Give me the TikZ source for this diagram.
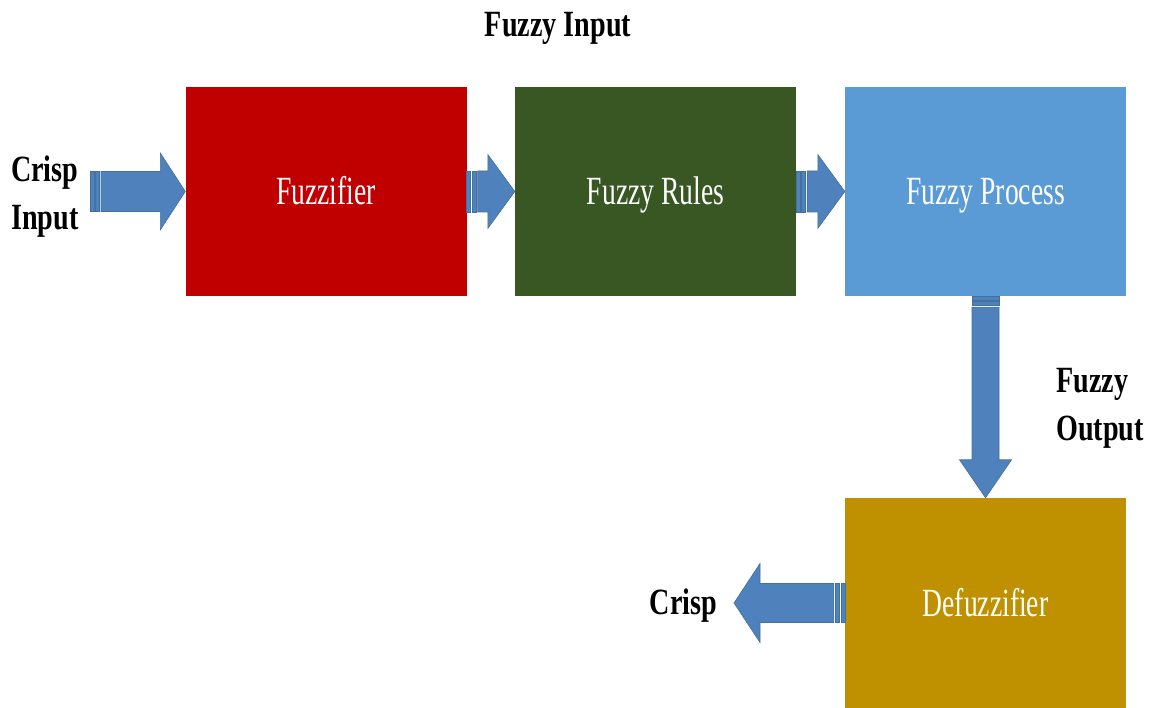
\documentclass[tikz,border=0pt]{standalone}
\usepackage{fontspec}
\setmainfont{Liberation Serif}
\usetikzlibrary{calc}

\definecolor{fzred}{HTML}{C00000}
\definecolor{fzgreen}{HTML}{385723}
\definecolor{fzblue}{HTML}{5B9BD5}
\definecolor{fzgold}{HTML}{BF9000}
\definecolor{arrfill}{HTML}{4F81BD}
\definecolor{arrline}{HTML}{41719C}

% narrow (condensed) text
\newcommand\narrowtext[2]{\scalebox{#1}[1]{#2}}

% striped block arrow: tail, tip, shaft half width, head half width, head length
\newcommand\stripedarrow[5]{%
  \path let \p1=($(#2)-(#1)$), \n1={veclen(\x1,\y1)}, \n2={atan2(\y1,\x1)} in
    \pgfextra{\xdef\arlen{\n1}\xdef\arang{\n2}};
  \begin{scope}[shift={(#1)}, rotate=\arang]
    \filldraw[blockarrow] (0,-#3) rectangle (4,#3);
    \filldraw[blockarrow] (5.5,-#3) rectangle (9.5,#3);
    \filldraw[blockarrow] (11,-#3) -- (\arlen-#5,-#3) -- (\arlen-#5,-#4)
      -- (\arlen,0) -- (\arlen-#5,#4) -- (\arlen-#5,#3) -- (11,#3) -- cycle;
  \end{scope}}

\begin{document}
\begin{tikzpicture}[x=1pt,y=1pt,
  stage/.style={rectangle, inner sep=0pt, minimum width=281pt, minimum height=209pt,
    text=white, font=\fontsize{40}{40}\selectfont, text height=27pt, text depth=0pt},
  lbl/.style={inner sep=0pt, align=left, font=\fontsize{37}{48}\selectfont\bfseries},
  blockarrow/.style={fill=arrfill, draw=arrline, line width=0.6pt}]

\useasboundingbox (0,0) rectangle (1150,708);

% processing stages
\node[stage, fill=fzred]   (fz) at (326,516.5)   {\narrowtext{0.69}{Fuzzifier}};
\node[stage, fill=fzgreen] (rl) at (655.5,516.5) {\narrowtext{0.69}{Fuzzy Rules}};
\node[stage, fill=fzblue]  (pr) at (985.5,516.5) {\narrowtext{0.69}{Fuzzy Process}};
\node[stage, fill=fzgold, minimum height=210pt] (df) at (985.5,105) {\narrowtext{0.69}{Defuzzifier}};

% labels
\node[lbl, anchor=base] (lfin) at (558,671) {\narrowtext{0.76}{Fuzzy Input}};
\node[lbl, anchor=west] (lcin) at (11,511) {\narrowtext{0.76}{Crisp}\\\narrowtext{0.76}{Input}};
\node[lbl, anchor=west] (lfout) at (1056,300) {\narrowtext{0.76}{Fuzzy}\\\narrowtext{0.76}{Output}};
\node[lbl, anchor=base] (lcout) at (683.5,93) {\narrowtext{0.76}{Crisp}};

% free ends of the outer arrows
\coordinate (inTail) at (90,516.5);
\coordinate (outTip) at (734,105);

% connectors
\stripedarrow{inTail}{fz.west}{20}{38.5}{25}
\stripedarrow{fz.east}{rl.west}{20.5}{37}{27}
\stripedarrow{rl.east}{pr.west}{20.5}{37}{27}
\stripedarrow{pr.south}{df.north}{13.5}{26}{38}
\stripedarrow{df.west}{outTip}{19.5}{39.5}{26}

\end{tikzpicture}
\end{document}
